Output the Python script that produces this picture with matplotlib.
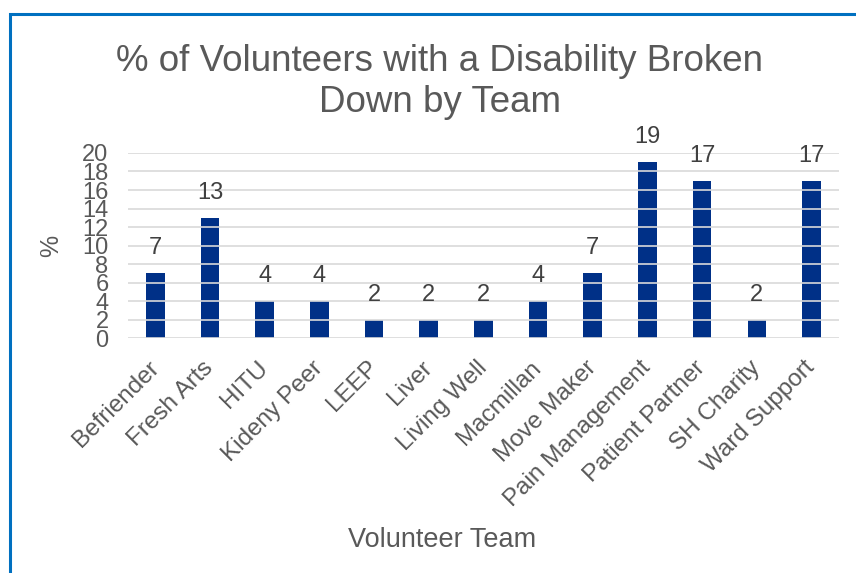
import matplotlib.pyplot as plt
from matplotlib.patches import Rectangle

# データ
teams = ['Befriender', 'Fresh Arts', 'HITU', 'Kideny Peer', 'LEEP', 'Liver',
         'Living Well', 'Macmillan', 'Move Maker', 'Pain Management',
         'Patient Partner', 'SH Charity', 'Ward Support']
pct = [7, 13, 4, 4, 2, 2, 2, 4, 7, 19, 17, 2, 17]
yticks = [0, 2, 4, 6, 8, 10, 12, 14, 16, 18, 20]

plt.rcParams['font.family'] = ['Liberation Sans', 'DejaVu Sans']
text_color = '#595959'

fig = plt.figure(figsize=(8.56, 5.73), dpi=100)
ax = fig.add_axes([0.1495, 0.410, 0.8305, 0.323])

bars = ax.bar(range(len(teams)), pct, width=0.34, color='#003087', zorder=1)
ax.set_xlim(-0.5, len(teams) - 0.5)
ax.set_ylim(0, 20)
ax.set_yticks(yticks)
ax.grid(axis='y', color='#d9d9d9', linewidth=1.2, zorder=2)
ax.set_axisbelow(False)
for s in ax.spines.values():
    s.set_visible(False)
ax.tick_params(length=0, colors=text_color, labelsize=17)
ax.tick_params(axis='y', pad=14)

ax.set_xticks(range(len(teams)))
ax.set_xticklabels(teams, rotation=45, ha='right', va='center',
                   rotation_mode='anchor', fontsize=17.5, color=text_color)
ax.tick_params(axis='x', pad=19)

# 値ラベル
for b, v in zip(bars, pct):
    ax.annotate(str(v), (b.get_x() + b.get_width() / 2, v), xytext=(0, 10),
                textcoords='offset points', ha='center', va='bottom',
                fontsize=17, color='#404040', annotation_clip=False)

ax.set_ylabel('%', fontsize=18, color=text_color, labelpad=14)
fig.text(0.517, 0.058, 'Volunteer Team', ha='center', va='center',
         fontsize=19.5, color=text_color)
fig.text(0.514, 0.857, '% of Volunteers with a Disability Broken\nDown by Team',
         ha='center', va='center', fontsize=26.5, color=text_color,
         linespacing=1.2)

# 枠線
fig.patches.append(Rectangle((9.5 / 856, -0.1), 1.2, 1 - 13.5 / 573 + 0.1,
                             transform=fig.transFigure, fill=False,
                             edgecolor='#0070C0', linewidth=2.2))

fig.savefig('out.png', dpi=100)
